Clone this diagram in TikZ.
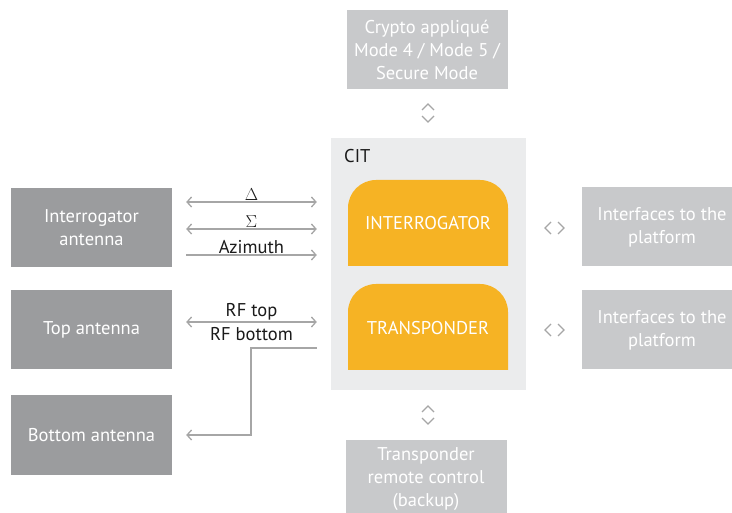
\documentclass[tikz,border=0pt]{standalone}
\usepackage{fontspec}
\setmainfont{PT Sans}
\usetikzlibrary{positioning}
\usetikzlibrary{arrows.meta}
\definecolor{darkbox}{HTML}{9B9C9E}
\definecolor{lightbox}{HTML}{C8C9CB}
\definecolor{citbg}{HTML}{EBECED}
\definecolor{unitorange}{HTML}{F6B324}
\definecolor{wire}{HTML}{A6A6A6}
\definecolor{ink}{HTML}{1A1A1A}

\begin{document}
\begin{tikzpicture}[x=1pt, y=-1pt, font=\fontsize{18.5}{23}\selectfont,
  ext/.style={fill=darkbox, text=white, minimum width=161pt, minimum height=79pt, align=center, inner sep=0pt},
  aux/.style={fill=lightbox, text=white, minimum width=161pt, minimum height=79pt, align=center, inner sep=0pt},
  unit/.style={text=white, align=center, inner sep=0pt},
  lbl/.style={text=ink, inner sep=1pt, font=\fontsize{18.5}{20}\selectfont},
  ar/.style={wire, line width=1.3pt, -{Straight Barb[length=4.5pt, width=10pt]}},
  biar/.style={wire, line width=1.3pt, {Straight Barb[length=4.5pt, width=10pt]}-{Straight Barb[length=4.5pt, width=10pt]}},
  chev/.style={wire, line width=1.2pt}]
      \useasboundingbox (0,0) rectangle (732,513);

      % CIT frame and units
      \node[fill=citbg, minimum width=195pt, minimum height=252pt, inner sep=0pt] (cit) at (428.5,264) {};
      \node[text=ink, anchor=west, inner sep=0pt] (citlbl) at (344,156) {CIT};
      \fill[unitorange] (348,266) [rounded corners=28pt] -- (348,180) -- (508,180) [sharp corners] -- (508,266) -- cycle;
      \fill[unitorange] (348,370) [rounded corners=28pt] -- (348,284) -- (508,284) [sharp corners] -- (508,370) -- cycle;
      \node[unit] (intr) at (428,223) {INTERROGATOR};
      \node[unit] (trsp) at (428,328) {TRANSPONDER};

      % antennas
      \node[ext] (intant) at (91.5,227.5) {Interrogator\\antenna};
      \node[ext] (topant) at (91.5,329.5) {Top antenna};
      \node[ext] (botant) at (91.5,435) {Bottom antenna};

      % other interfaces
      \node[aux] (crypto) at (427,49.5) {Crypto appliqué\\Mode 4 / Mode 5 /\\Secure Mode};
      \node[aux] (remote) at (426,479.5) {Transponder\\remote control\\(backup)};
      \node[aux] (plat1) at (662,227) {Interfaces to the\\platform};
      \node[aux] (plat2) at (662,330) {Interfaces to the\\platform};

      % connectors
      \draw[biar, shorten <=14pt, shorten >=14pt] (intant.east |- 0,202) -- (cit.west |- 0,202) node[lbl, midway, above] {$\Delta$};
      \draw[biar, shorten <=14pt, shorten >=14pt] (intant.east |- 0,229) -- (cit.west |- 0,229) node[lbl, midway, above] {$\Sigma$};
      \draw[ar, shorten <=14pt, shorten >=14pt] (intant.east |- 0,255) -- (cit.west |- 0,255) node[lbl, midway, above] {Azimuth};
      \draw[biar, shorten <=14pt, shorten >=14pt] (topant.east |- 0,322) -- (cit.west |- 0,322) node[lbl, midway, above] {RF top} node[lbl, midway, below, yshift=-4pt] {RF bottom};
      \draw[ar, shorten <=14pt, shorten >=14pt] (cit.west |- 0,348) -- (251,348) |- (botant.east);

      % chevrons
      \draw[chev] (422,110) -- (428,104) -- (434,110);
      \draw[chev] (422,116) -- (428,122) -- (434,116);
      \draw[chev] (422,412) -- (428,406) -- (434,412);
      \draw[chev] (422,418) -- (428,424) -- (434,418);
      \draw[chev] (551,222) -- (545,228) -- (551,234);
      \draw[chev] (558,222) -- (564,228) -- (558,234);
      \draw[chev] (551,324) -- (545,330) -- (551,336);
      \draw[chev] (558,324) -- (564,330) -- (558,336);
\end{tikzpicture}
\end{document}
